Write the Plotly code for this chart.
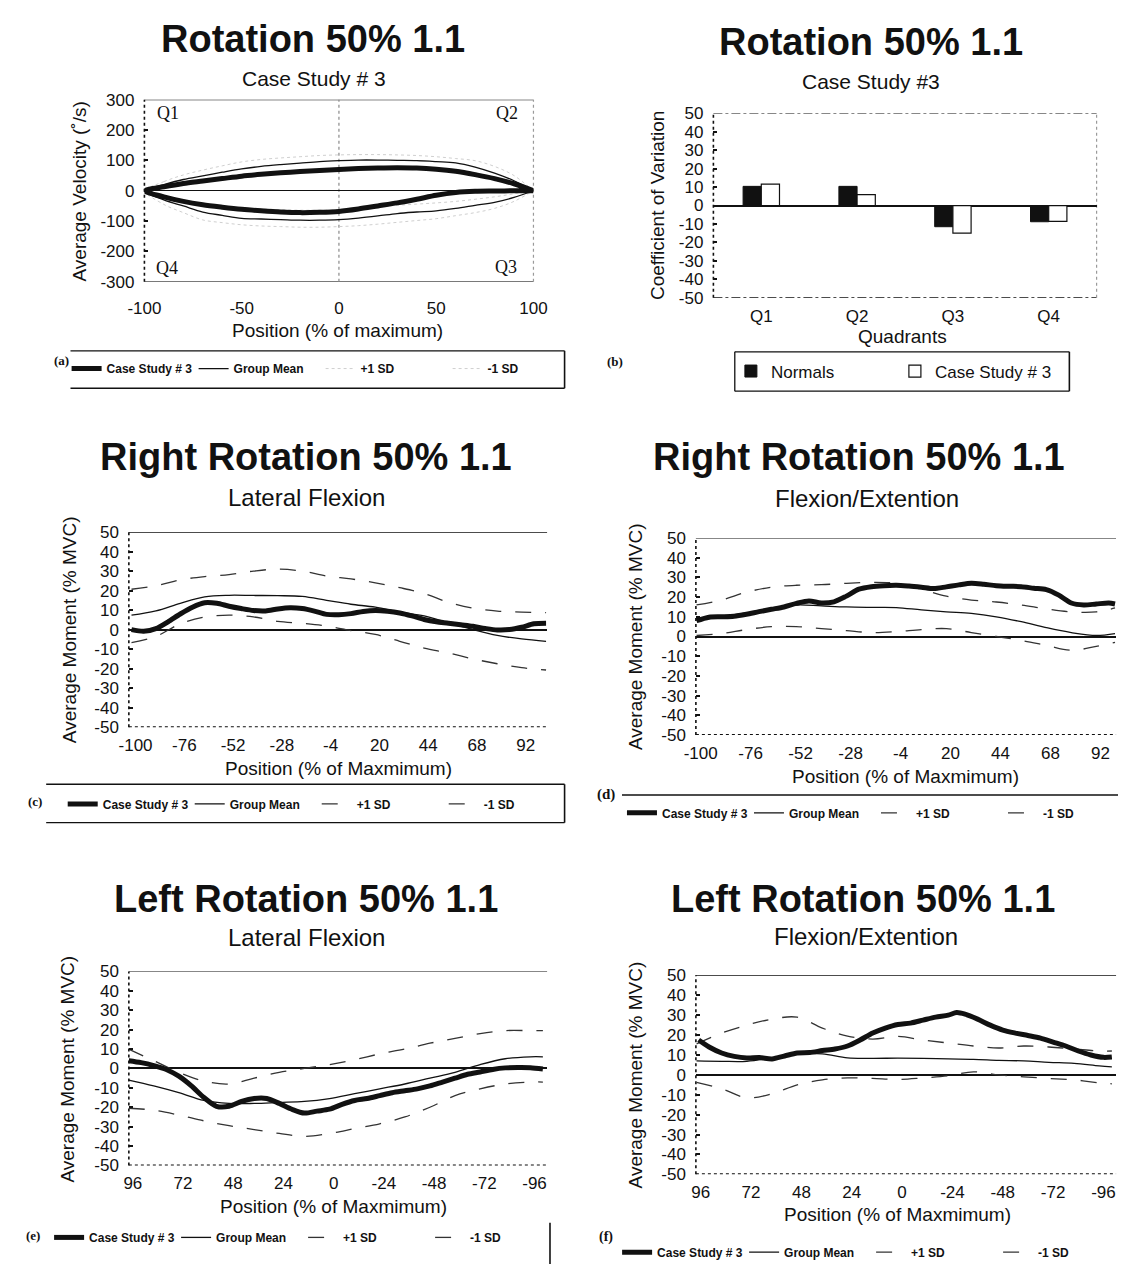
import plotly.graph_objects as go

W, H = 1132, 1274
FONT = "Arial, 'Liberation Sans', Helvetica, sans-serif"
SERIF = "'Times New Roman', 'Liberation Serif', Times, serif"
INK = "#111111"
FAINT = "#cfcfcf"

# ---------------- (a) velocity / position loops ----------------
vel_pos_out = [-100, -90, -80, -70, -60, -50, -40, -30, -20, -10, 0, 10, 20, 30, 40, 50, 60, 70, 80, 90, 100]
vel_pos_back = [100, 90, 80, 70, 60, 50, 40, 30, 20, 10, 0, -10, -20, -30, -40, -50, -60, -70, -80, -90, -100]
vel_case_out = [0, 13, 24, 32, 40, 48, 54, 59, 63, 67, 70, 73, 75, 76, 75, 71, 64, 53, 40, 23, 0]
vel_case_back = [0, 0, -1, -2, -6, -15, -28, -40, -50, -60, -68, -71, -72, -70, -66, -61, -54, -46, -35, -20, 0]
vel_mean_out = [0, 20, 37, 49, 61, 72, 80, 86, 91, 96, 99, 101, 101, 100, 99, 96, 92, 78, 58, 33, 0]
vel_mean_back = [0, -22, -38, -48, -58, -66, -70, -75, -83, -90, -95, -97, -97, -95, -93, -91, -81, -70, -50, -30, 0]
vel_plus_out = [0, 30, 52, 68, 82, 95, 103, 108, 112, 116, 118, 119, 119, 118, 116, 112, 106, 99, 80, 50, 0]
vel_plus_back = [0, -10, -20, -28, -35, -40, -44, -48, -53, -58, -62, -64, -64, -62, -60, -58, -52, -45, -32, -15, 0]
vel_minus_out = [0, 10, 20, 28, 38, 48, 56, 62, 66, 70, 72, 74, 74, 74, 73, 72, 70, 60, 40, 18, 0]
vel_minus_back = [0, -35, -58, -72, -82, -92, -98, -104, -110, -115, -118, -120, -120, -118, -116, -112, -105, -96, -72, -45, 0]
vel_yticks = [-300, -200, -100, 0, 100, 200, 300]
vel_xticks = [-100, -50, 0, 50, 100]

# ---------------- (b) coefficient of variation ----------------
quadrants = ["Q1", "Q2", "Q3", "Q4"]
cv_normals = [10.4, 10.4, -11.5, -8.8]
cv_case = [11.6, 5.9, -15.0, -8.6]

# ---------------- (c) right rotation, lateral flexion ----------------
rl_case_x = [-102, -96, -90, -84, -78, -72, -66, -60, -54, -48, -42, -36, -30, -24, -18, -12, -6, 0, 6, 12,
             18, 24, 30, 36, 42, 48, 54, 60, 66, 72, 78, 84, 90, 96, 102]
rl_case = [0, -0.8, 0.5, 4, 8, 11.5, 13.8, 13.5, 12, 10.8, 9.8, 9.6, 10.6, 11.2, 10.8, 9.5, 7.8, 7.6, 8.2, 9.3,
           9.8, 9.4, 8.5, 7, 5.2, 4, 3.3, 2.5, 1.7, 0.6, -0.2, 0, 1.2, 3, 3.3]
rl_band_x = [-102, -90, -78, -66, -54, -42, -30, -18, -6, 6, 18, 30, 42, 54, 66, 78, 90, 102]
rl_mean = [7.4, 9.6, 13.5, 16.8, 17.6, 17.5, 17.4, 17, 15, 13, 11.5, 9, 7, 3.5, 0, -3, -4.8, -6]
rl_plus = [20.7, 22.5, 25.5, 27.2, 28.2, 30, 31, 30, 27.5, 26, 24, 21.5, 18.5, 14, 11, 9.5, 9, 8.7]
rl_minus = [-6.7, -3.5, 3, 6.5, 7.4, 6.5, 4.2, 3.2, 1.8, -0.5, -2.5, -6, -9.5, -12, -15, -17.5, -19.5, -20.7]

# ---------------- (d) right rotation, flexion/extension ----------------
rf_case_x = [-102, -96, -90, -84, -78, -72, -66, -60, -54, -48, -42, -36, -30, -24, -18, -12, -6, 0, 6, 12,
             18, 24, 30, 36, 42, 48, 54, 60, 66, 72, 78, 84, 90, 96, 99]
rf_case = [8, 9.8, 10, 10.3, 11.3, 12.6, 13.8, 15, 16.8, 18, 17, 17.6, 20.5, 24, 25.3, 25.8, 26, 25.6, 25, 24.3,
           25.2, 26.2, 27, 26.5, 25.8, 25.5, 25.3, 24.5, 23.8, 21, 17, 16, 16.5, 17, 16.5]
rf_band_x = [-102, -90, -78, -66, -54, -42, -30, -18, -6, 6, 18, 30, 42, 54, 66, 78, 90, 99]
rf_mean = [8.3, 10, 12, 14, 16, 15.5, 15, 14.8, 14.7, 13.5, 12.5, 11.7, 10, 7.5, 4.5, 2, 0.5, 1.5]
rf_plus = [16, 18.5, 22.5, 25, 26, 26.3, 27, 27.5, 27, 24, 20.5, 18.5, 17.5, 16, 14, 12.5, 12.5, 14.5]
rf_minus = [0.5, 1.5, 3.5, 5, 5, 4, 3, 2, 2.5, 3.5, 4, 2, 0, -2, -4.5, -7, -5, -3]

# ---------------- (e) left rotation, lateral flexion ----------------
ll_case_x = [98, 92, 86, 80, 74, 68, 62, 56, 50, 44, 38, 32, 26, 20, 14, 8, 2, -4, -10, -16, -22, -28, -34,
             -40, -46, -52, -58, -64, -70, -76, -82, -88, -94, -100]
ll_case = [4, 3, 1.5, -0.5, -4, -9, -15, -19.5, -19.5, -17, -15.5, -15.5, -18, -21, -23, -22, -21, -18.5,
           -16.5, -15.5, -14, -12.5, -11.5, -10.5, -9, -7, -5, -3, -1.8, -0.5, 0.3, 0.5, 0.4, -0.3]
ll_band_x = [98, 86, 74, 62, 50, 38, 26, 14, 2, -10, -22, -34, -46, -58, -70, -82, -94, -100]
ll_mean = [-6, -9, -12.5, -16.5, -18, -18, -17.5, -17, -15.5, -13, -10.5, -8, -5, -2, 2, 5, 6, 6]
ll_plus = [10, 4, -2, -6.5, -8, -5, -2, 0, 2, 4.5, 7.5, 10, 13, 15.5, 18, 19.5, 19.5, 19.5]
ll_minus = [-20.5, -21.5, -24, -27, -29.5, -31.5, -33.5, -35, -33.5, -31, -28.5, -25, -20, -14, -10.5, -8, -7, -7]

# ---------------- (f) left rotation, flexion/extension ----------------
lf_case_x = [97, 92, 86, 80, 74, 68, 62, 56, 50, 44, 38, 32, 26, 20, 14, 8, 2, -4, -10, -16, -22, -26, -30,
             -36, -42, -48, -54, -60, -66, -72, -78, -84, -90, -96, -100]
lf_case = [17.5, 14, 11, 9.3, 8.5, 8.7, 8, 9.5, 11, 11.2, 12.2, 13, 14.5, 17.5, 21, 23.5, 25.3, 26, 27.5, 29,
           30, 31.3, 30.5, 28, 25, 22.5, 21, 19.8, 18.5, 16.5, 14.5, 12, 10, 8.8, 9]
lf_band_x = [98, 86, 74, 62, 50, 38, 26, 14, 2, -10, -22, -34, -46, -58, -70, -82, -94, -100]
lf_mean = [7, 6.8, 6.8, 8.5, 10.5, 10.5, 8.5, 8.3, 8.4, 8.3, 8, 7.8, 7.3, 7, 6.3, 5.8, 4.5, 4]
lf_plus = [15.5, 21, 25, 28, 29, 23.5, 19.5, 18, 19.3, 17.5, 16, 14.5, 13.5, 14.5, 14, 13, 12, 12]
lf_minus = [-3.8, -7, -11.5, -9.5, -5, -2.5, -1.5, -1.8, -2.3, -1.5, -0.5, 1.5, 0, -1, -1.8, -2.5, -4, -4.5]

moment_ticks = [-50, -40, -30, -20, -10, 0, 10, 20, 30, 40, 50]
right_pos_ticks = [-100, -76, -52, -28, -4, 20, 44, 68, 92]
left_pos_ticks = [96, 72, 48, 24, 0, -24, -48, -72, -96]


def fx(xp):
    return xp / W


def fy(yp):
    return 1 - yp / H


# plot areas in pixels: left, right, top, bottom
boxes = {
    1: (131, 531, 92, 277),
    2: (716, 1110, 106, 293),
    3: (115, 545, 531, 729),
    4: (698, 1130, 537, 737),
    5: (115, 545, 977, 1174),
    6: (698, 1130, 981, 1183),
}


def ids(n):
    s = "" if n == 1 else str(n)
    return "x" + s, "y" + s, "xaxis" + s, "yaxis" + s


fig = go.Figure()


def add_lines(n, leg, xs_case, ys_case, xs_band, mean, plus, minus, sd_color, sd_dash, sd_width=1.3):
    xa, ya, _, _ = ids(n)
    fig.add_trace(go.Scatter(x=xs_band, y=plus, mode="lines", name="+1 SD", legend=leg, legendrank=3,
                             line=dict(color=sd_color, width=sd_width, dash=sd_dash, shape="spline"),
                             xaxis=xa, yaxis=ya, hoverinfo="skip"))
    fig.add_trace(go.Scatter(x=xs_band, y=minus, mode="lines", name="-1 SD", legend=leg, legendrank=4,
                             line=dict(color=sd_color, width=sd_width, dash=sd_dash, shape="spline"),
                             xaxis=xa, yaxis=ya, hoverinfo="skip"))
    fig.add_trace(go.Scatter(x=xs_band, y=mean, mode="lines", name="Group Mean", legend=leg, legendrank=2,
                             line=dict(color=INK, width=1.3, shape="spline"),
                             xaxis=xa, yaxis=ya, hoverinfo="skip"))
    fig.add_trace(go.Scatter(x=xs_case, y=ys_case, mode="lines", name="Case Study # 3", legend=leg, legendrank=1,
                             line=dict(color=INK, width=5, shape="spline", smoothing=0.8),
                             xaxis=xa, yaxis=ya, hoverinfo="skip"))


# (a) closed loops: outward stroke then return stroke
loop_x = vel_pos_out + vel_pos_back
add_lines(1, "legend", loop_x, vel_case_out + vel_case_back, loop_x,
          vel_mean_out + vel_mean_back, vel_plus_out + vel_plus_back, vel_minus_out + vel_minus_back,
          FAINT, "dot", sd_width=1)

# (b) grouped bars
fig.add_trace(go.Bar(x=quadrants, y=cv_normals, name="Normals", legend="legend2",
                     marker=dict(color=INK, line=dict(color=INK, width=1)), xaxis="x2", yaxis="y2"))
fig.add_trace(go.Bar(x=quadrants, y=cv_case, name="Case Study # 3", legend="legend2",
                     marker=dict(color="white", line=dict(color=INK, width=1.2)), xaxis="x2", yaxis="y2"))

SD_DASH = "16px,14px"
add_lines(3, "legend3", rl_case_x, rl_case, rl_band_x, rl_mean, rl_plus, rl_minus, "#333333", SD_DASH)
add_lines(4, "legend4", rf_case_x, rf_case, rf_band_x, rf_mean, rf_plus, rf_minus, "#333333", SD_DASH)
add_lines(5, "legend5", ll_case_x, ll_case, ll_band_x, ll_mean, ll_plus, ll_minus, "#333333", SD_DASH)
add_lines(6, "legend6", lf_case_x, lf_case, lf_band_x, lf_mean, lf_plus, lf_minus, "#333333", SD_DASH)

tick_font = dict(family=FONT, size=17, color=INK)
axes = {}
x_ranges = {1: [-100, 100], 3: [-103.3, 102.5], 4: [-102.3, 99.5], 5: [97.9, -102], 6: [98.3, -102]}
x_ticks = {1: vel_xticks, 3: right_pos_ticks, 4: right_pos_ticks, 5: left_pos_ticks, 6: left_pos_ticks}
for n, (l, r, t, b) in boxes.items():
    xa, ya, xk, yk = ids(n)
    xcfg = dict(domain=[fx(l), fx(r)], anchor=ya, showgrid=False, zeroline=False, showline=False,
                ticks="", tickfont=tick_font, fixedrange=True)
    ycfg = dict(domain=[fy(b), fy(t)], anchor=xa, showgrid=False, showline=False,
                zeroline=True, zerolinecolor=INK, zerolinewidth=1.5,
                ticks="inside", ticklen=4, tickcolor=INK, tickwidth=1.5,
                tickfont=tick_font, ticklabelstandoff=9, fixedrange=True)
    if n == 1:
        ycfg.update(range=[-300, 300], tickvals=vel_yticks, ticktext=[str(v) for v in vel_yticks],
                    zerolinewidth=1.2)
        xcfg.update(ticklabelstandoff=14)
    else:
        ycfg.update(range=[-50, 50], tickvals=moment_ticks, ticktext=[str(v) for v in moment_ticks])
    if n == 2:
        xcfg.update(type="category", tickvals=quadrants, ticktext=quadrants, ticklabelstandoff=6)
    else:
        xcfg.update(range=x_ranges[n], tickvals=x_ticks[n], ticktext=[str(v) for v in x_ticks[n]])
        if n > 2:
            xcfg.update(ticklabelstandoff=6)
    axes[xk] = xcfg
    axes[yk] = ycfg

shapes = []


def hline(n, yv, dash="solid", width=1.2, color=INK):
    xa, ya, _, _ = ids(n)
    shapes.append(dict(type="line", xref=xa + " domain", yref=ya, x0=0, x1=1, y0=yv, y1=yv,
                       line=dict(color=color, width=width, dash=dash), layer="below"))


def vline_domain(n, xv, dash="dot", width=1.6, color=INK):
    xa, ya, _, _ = ids(n)
    shapes.append(dict(type="line", xref=xa + " domain", yref=ya + " domain", x0=xv, x1=xv, y0=0, y1=1,
                       line=dict(color=color, width=width, dash=dash), layer="below"))


# (a) frame
hline(1, 300)
hline(1, -300)
vline_domain(1, 0)
vline_domain(1, 1, color="#9a9a9a", width=1.2)
vline_domain(1, 0.5, color="#8a8a8a", width=1.2)
# (b) frame
hline(2, 50, dash="dashdot")
hline(2, -50, dash="dashdot")
vline_domain(2, 0)
vline_domain(2, 1, color="#9a9a9a", width=1.2)
# (c)-(f) frames
for n in (3, 4, 5, 6):
    hline(n, 50)
    hline(n, -50, dash="dot", width=2)
    vline_domain(n, 0)


def seg(x0, y0, x1, y1, width=1.3):
    shapes.append(dict(type="line", xref="paper", yref="paper", x0=fx(x0), y0=fy(y0), x1=fx(x1), y1=fy(y1),
                       line=dict(color=INK, width=width)))


# legend frames
seg(55, 347, 563, 347); seg(55, 385, 563, 385); seg(563, 347, 563, 385, 1.6)
seg(738, 348, 1082, 348); seg(738, 388, 1082, 388); seg(738, 348, 738, 388); seg(1082, 348, 1082, 388, 1.6)
seg(30, 787, 563, 787); seg(30, 826, 563, 826); seg(563, 787, 563, 826, 1.6)
seg(622, 798, 1132, 798, 1.5)
seg(548, 1232, 548, 1274, 1.6)


def legend_cfg(x_start, y_mid, size=12, entry=82, weight="bold"):
    return dict(x=fx(x_start), y=fy(y_mid), xanchor="left", yanchor="middle", orientation="h",
                font=dict(family=FONT, size=size, color=INK, weight=weight), bgcolor="rgba(0,0,0,0)",
                borderwidth=0, itemwidth=30, entrywidth=entry, entrywidthmode="pixels",
                itemclick=False, itemdoubleclick=False, traceorder="normal")


legends = {
    "legend": legend_cfg(51, 365),
    "legend2": legend_cfg(734, 368, size=17, entry=119, weight="normal"),
    "legend3": legend_cfg(47, 807),
    "legend4": legend_cfg(622, 816),
    "legend5": legend_cfg(33, 1247),
    "legend6": legend_cfg(617, 1262),
}

ann = []


def text(x, y, s, size, family=FONT, angle=0, bold=False):
    ann.append(dict(x=fx(x), y=fy(y), xref="paper", yref="paper", showarrow=False,
                    text=("<b>%s</b>" % s) if bold else s, textangle=angle,
                    font=dict(family=family, size=size, color=INK), xanchor="center", yanchor="middle"))


# titles and subtitles
text(304, 30, "Rotation 50% 1.1", 38, bold=True)
text(305, 71, "Case Study # 3", 21)
text(878, 33, "Rotation 50% 1.1", 38, bold=True)
text(878, 74, "Case Study #3", 21)
text(297, 455, "Right Rotation 50% 1.1", 38, bold=True)
text(298, 496, "Lateral Flexion", 24)
text(866, 455, "Right Rotation 50% 1.1", 38, bold=True)
text(874, 497, "Flexion/Extention", 24)
text(297, 903, "Left Rotation 50% 1.1", 38, bold=True)
text(298, 943, "Lateral Flexion", 24)
text(870, 903, "Left Rotation 50% 1.1", 38, bold=True)
text(873, 942, "Flexion/Extention", 24)

# axis titles
text(330, 326, "Position (% of maximum)", 19)
text(64, 185, "Average Velocity (\u02da/s)", 19, angle=-90)
text(910, 332, "Quadrants", 19)
text(658, 199, "Coefficient of Variation", 19, angle=-90)
text(331, 771, "Position (% of Maxmimum)", 19)
text(54, 630, "Average Moment (% MVC)", 19, angle=-90)
text(914, 779, "Position (% of Maxmimum)", 19)
text(636, 637, "Average Moment (% MVC)", 19, angle=-90)
text(325, 1216, "Position (% of Maxmimum)", 19)
text(52, 1076, "Average Moment (% MVC)", 19, angle=-90)
text(905, 1224, "Position (% of Maxmimum)", 19)
text(636, 1082, "Average Moment (% MVC)", 19, angle=-90)

# quadrant markers on the velocity loop
text(155, 106, "Q1", 18, family=SERIF)
text(504, 106, "Q2", 18, family=SERIF)
text(503, 262, "Q3", 18, family=SERIF)
text(154, 263, "Q4", 18, family=SERIF)

# panel letters
text(46, 357, "(a)", 13, family=SERIF, bold=True)
text(615, 358, "(b)", 13, family=SERIF, bold=True)
text(18, 805, "(c)", 13, family=SERIF, bold=True)
text(606, 797, "(d)", 15, family=SERIF, bold=True)
text(16, 1245, "(e)", 13, family=SERIF, bold=True)
text(606, 1247, "(f)", 14, family=SERIF, bold=True)

fig.update_layout(
    width=W, height=H, autosize=False,
    margin=dict(l=0, r=0, t=0, b=0),
    paper_bgcolor="white", plot_bgcolor="white",
    font=dict(family=FONT, color=INK),
    barmode="group", bargap=0.62, bargroupgap=0,
    shapes=shapes, annotations=ann,
    **axes, **legends,
)

fig.write_html("out.html")
